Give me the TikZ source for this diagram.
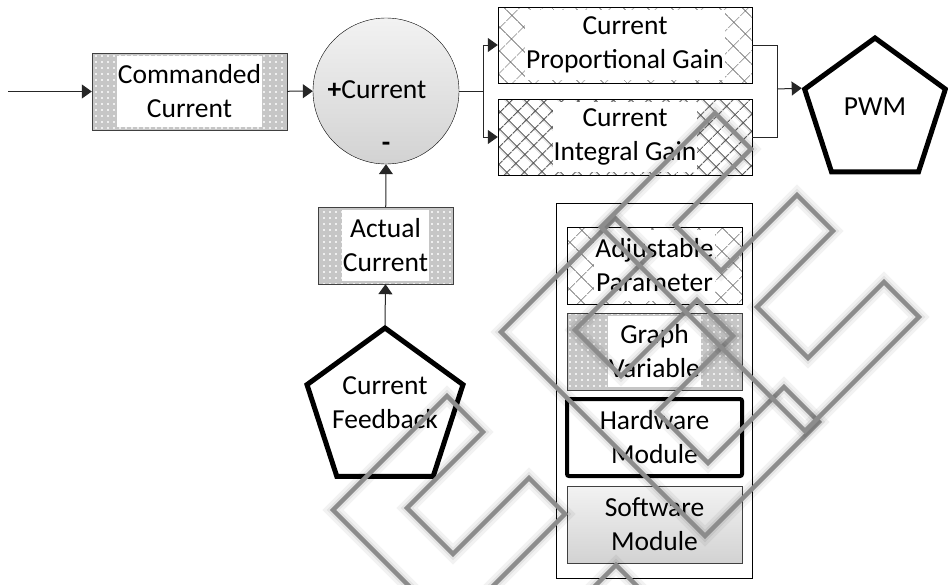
\documentclass[tikz,border=0pt]{standalone}
\usepackage{fontspec}
\setmainfont{Carlito}
\usetikzlibrary{positioning}
\usetikzlibrary{arrows.meta}
\usetikzlibrary{shapes.geometric}
\usetikzlibrary{patterns.meta}
\newcommand{\diagfont}{\fontsize{27.5}{34}\selectfont}
\tikzset{tips=proper}
\tikzset{%
    box/.style={rectangle, draw, minimum width=175pt, minimum height=77pt, inner sep=0pt},
    graphvar/.style={box, draw=none, fill=gray!45, postaction={pattern={Dots[distance=6pt, radius=1.1pt]}, pattern color=white}, postaction={draw=black!75}},
    param/.style={box, draw=none, postaction={pattern={Hatch[angle=45, distance=17pt, line width=0.8pt]}, pattern color=black!55}, postaction={draw}},
    txt/.style={fill=white, inner xsep=1pt, inner ysep=0pt, minimum height=71pt, align=center, font=\diagfont},
    hwmod/.style={box, line width=4pt, rounded corners=2pt},
    swmod/.style={box, draw=black!75, top color=gray!10, bottom color=gray!35},
    hwport/.style={regular polygon, regular polygon sides=5, draw, line width=5pt, inner sep=0pt},
    wire/.style={draw, line width=1pt, black!85},
    arrow/.style={wire, -{Triangle[length=10pt, width=14pt]}},
    wmark/.style={draw=black!45, line width=4.5pt, preaction={draw=black, opacity=0.05, line width=15pt}, preaction={draw=black, opacity=0.06, line width=9pt}}
}
\begin{document}
\begin{tikzpicture}[x=1pt, y=-1pt]
    \useasboundingbox (0,0) rectangle (948,584);
    % control loop
    \node[graphvar, minimum width=195pt] (cmd) at (189.5,91.5) {};
    \node[txt] (cmd-txt) at (cmd) {Commanded\\Current};
    \node[circle, draw, minimum size=146pt, inner sep=0pt, top color=gray!10, bottom color=gray!35] (sum) at (386,91) {};
    \node[font=\diagfont] (sum-txt) at (377,90) {\textbf{+}Current};
    \node[font=\diagfont\bfseries] (sum-minus) at (386,147) {-};
    \node[param, minimum width=254pt, minimum height=76pt] (kp) at (625,45) {};
    \node[txt, minimum height=70pt] (kp-txt) at (kp) {Current\\Proportional Gain};
    \node[box, draw=none, minimum width=254pt, minimum height=76pt, postaction={pattern={Hatch[angle=45, distance=13pt, line width=1.2pt]}, pattern color=black!70}, postaction={draw}] (ki) at (625,137) {};
    \node[txt, minimum height=70pt] (ki-txt) at (ki) {Current\\Integral Gain};
    \node[hwport, minimum size=148pt] (pwm) at (875,112) {};
    \node[font=\diagfont] (pwm-txt) at (875,107) {PWM};
    \node[graphvar, minimum width=135pt] (act) at (385.5,245.5) {};
    \node[txt] (act-txt) at (act) {Actual\\Current};
    \node[hwport, minimum size=164pt] (fb) at (385,410) {};
    \node[align=center, font=\diagfont] (fb-txt) at (385,403) {Current\\Feedback};
    % connectors
    \coordinate (in) at (8,91.5);
    \coordinate (split) at (483,91);
    \coordinate (join) at (777,89);
    \draw[arrow] (in) -- (cmd);
    \draw[arrow] (cmd) -- (sum);
    \draw[wire] (sum.east) -- (split);
    \draw[arrow] (split) |- (kp.west);
    \draw[arrow] (split) |- (ki.west);
    \draw[wire] (kp.east) -| (join);
    \draw[wire] (ki.east) -| (join);
    \draw[arrow] (join) -- (pwm.corner 2);
    \draw[arrow] (fb.corner 1) -- (act.south);
    \draw[arrow] (act) -- (sum.south);
    % legend
    \node[draw, line width=0.8pt, minimum width=196pt, minimum height=375pt] (legend) at (654,390.5) {};
    \node[param] (lg-param) at (654.5,265.5) {};
    \node[txt] (lg-param-txt) at (lg-param) {Adjustable\\Parameter};
    \node[graphvar] (lg-var) at (654.5,351.5) {};
    \node[txt] (lg-var-txt) at (lg-var) {Graph\\Variable};
    \node[hwmod] (lg-hw) at (654.5,437.5) {};
    \node[txt, fill=none] (lg-hw-txt) at (lg-hw) {Hardware\\Module};
    \node[swmod] (lg-sw) at (654.5,524.5) {};
    \node[txt, fill=none] (lg-sw-txt) at (lg-sw) {Software\\Module};
    % watermark
    \begin{scope}
        \clip (0,0) rectangle (948,584);
        \foreach \kx/\ky in {333/510, 501/332, 601/227} {
            \draw[wmark, shift={(\kx,\ky)}] (0,0) -- (114,-114) -- (150,-78) -- (74,-2) -- (120,44) -- (196,-32) -- (232,4)
                -- (156,80) -- (207,131) -- (283,55) -- (318,90) -- (204,204) -- cycle;
        }
    \end{scope}
\end{tikzpicture}
\end{document}
